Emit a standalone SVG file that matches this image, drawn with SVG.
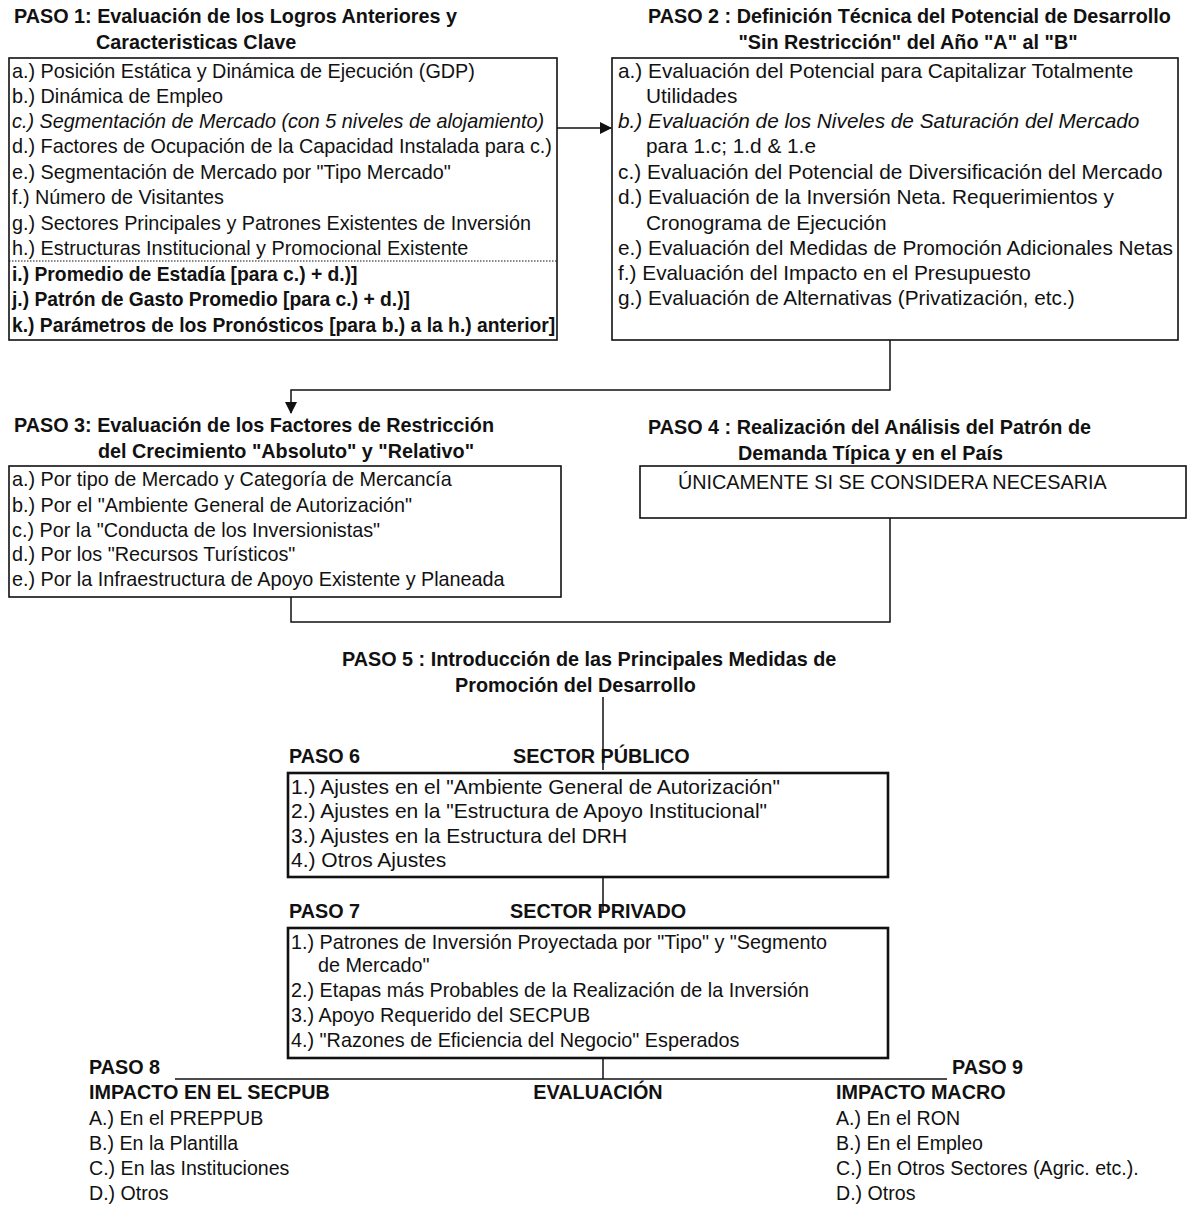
<svg xmlns="http://www.w3.org/2000/svg" width="1188" height="1205" viewBox="0 0 1188 1205">
<defs>
<style>
text{font-family:"Liberation Sans",Arial,sans-serif;fill:#111;}
.t{font-size:19.8px;font-weight:bold;}
.b{font-size:19.8px;}
.b2{font-size:20.8px;}
.b6{font-size:21px;}
.bl{font-size:19.6px;}
.bb{font-size:19.3px;font-weight:bold;}
.i{font-style:italic;}
.box{fill:#fff;stroke:#111;stroke-width:1.6;}
.tbox{fill:#fff;stroke:#111;stroke-width:2.6;}
.ln{fill:none;stroke:#111;stroke-width:1.5;}
</style>
<marker id="ah" markerWidth="12" markerHeight="12" refX="11" refY="6" orient="auto" markerUnits="userSpaceOnUse">
<path d="M0,0 L12,6 L0,12 z" fill="#111"/>
</marker>
</defs>
<rect width="1188" height="1205" fill="#fff"/>

<g id="connectors">
<path class="ln" d="M557,128 H611" marker-end="url(#ah)"/>
<path class="ln" d="M890,340 V390 H291 V413" marker-end="url(#ah)"/>
<path class="ln" d="M291,597 V622 H890 V518"/>
<path class="ln" d="M603,697 V770"/>
<path class="ln" d="M603,877 V912"/>
<path class="ln" d="M603,1058 V1079"/>
<path class="ln" d="M175,1079 H947"/>
</g>

<g id="paso1">
<text class="t" x="14" y="23">PASO 1: Evaluación de los Logros Anteriores y</text>
<text class="t" x="96" y="49">Caracteristicas Clave</text>
<rect class="box" x="9" y="58" width="548" height="282"/>
<text class="b" x="12" y="78">a.) Posición Estática y Dinámica de Ejecución (GDP)</text>
<text class="b" x="12" y="103">b.) Dinámica de Empleo</text>
<text class="b i" x="12" y="128">c.) Segmentación de Mercado (con 5 niveles de alojamiento)</text>
<text class="b" x="12" y="153">d.) Factores de Ocupación de la Capacidad Instalada  para c.)</text>
<text class="b" x="12" y="179">e.) Segmentación de Mercado por "Tipo Mercado"</text>
<text class="b" x="12" y="204">f.) Número de Visitantes</text>
<text class="b" x="12" y="230">g.) Sectores Principales y Patrones Existentes de Inversión</text>
<text class="b" x="12" y="255">h.) Estructuras Institucional y Promocional Existente</text>
<line x1="9" y1="261" x2="557" y2="261" stroke="#111" stroke-width="1.2" stroke-dasharray="1.5,1.5"/>
<text class="bb" x="12" y="281">i.) Promedio de Estadía [para c.) + d.)]</text>
<text class="bb" x="12" y="306">j.) Patrón de Gasto Promedio [para c.) + d.)]</text>
<text class="bb" x="12" y="332">k.) Parámetros de los Pronósticos [para b.) a la h.) anterior]</text>
</g>

<g id="paso2">
<text class="t" x="648" y="23">PASO 2 : Definición Técnica del Potencial de Desarrollo</text>
<text class="t" x="908" y="49" text-anchor="middle">"Sin Restricción" del Año "A" al "B"</text>
<rect class="box" x="612" y="58" width="566" height="282"/>
<text class="b2" x="618" y="78">a.) Evaluación del Potencial para Capitalizar Totalmente</text>
<text class="b2" x="646" y="103">Utilidades</text>
<text class="b2 i" x="618" y="128">b.) Evaluación de los Niveles de Saturación del Mercado</text>
<text class="b2" x="646" y="153">para 1.c; 1.d &amp; 1.e</text>
<text class="b2" x="618" y="179">c.) Evaluación del Potencial de Diversificación del Mercado</text>
<text class="b2" x="618" y="204">d.) Evaluación de la Inversión Neta. Requerimientos y</text>
<text class="b2" x="646" y="230">Cronograma de Ejecución</text>
<text class="b2" x="618" y="255">e.) Evaluación del Medidas de Promoción Adicionales Netas</text>
<text class="b2" x="618" y="280">f.) Evaluación del Impacto en el Presupuesto</text>
<text class="b2" x="618" y="305">g.) Evaluación de Alternativas (Privatización, etc.)</text>
</g>

<g id="paso3">
<text class="t" x="14" y="432">PASO 3: Evaluación de los Factores de Restricción</text>
<text class="t" x="98" y="458">del Crecimiento "Absoluto" y "Relativo"</text>
<rect class="box" x="9" y="466" width="552" height="131"/>
<text class="b" x="12" y="486">a.) Por tipo de Mercado y Categoría de Mercancía</text>
<text class="b" x="12" y="512">b.) Por el "Ambiente General de Autorización"</text>
<text class="b" x="12" y="537">c.) Por la "Conducta de los Inversionistas"</text>
<text class="b" x="12" y="561">d.) Por los "Recursos Turísticos"</text>
<text class="b" x="12" y="586">e.) Por la Infraestructura de Apoyo Existente y Planeada</text>
</g>

<g id="paso4">
<text class="t" x="648" y="434">PASO 4 : Realización del Análisis del Patrón de</text>
<text class="t" x="738" y="460">Demanda Típica y en el País</text>
<rect class="box" x="640" y="466" width="546" height="52"/>
<text class="b" x="678" y="489">ÚNICAMENTE SI SE CONSIDERA NECESARIA</text>
</g>

<g id="paso5">
<text class="t" x="342" y="666">PASO 5 : Introducción de las Principales Medidas de</text>
<text class="t" x="455" y="692">Promoción del Desarrollo</text>
</g>

<g id="paso6">
<text class="t" x="289" y="763">PASO 6</text>
<text class="t" x="513" y="763">SECTOR PÚBLICO</text>
<rect class="tbox" x="288" y="773" width="600" height="104"/>
<text class="b6" x="291" y="794">1.) Ajustes en el "Ambiente General de Autorización"</text>
<text class="b6" x="291" y="818">2.) Ajustes en la "Estructura de Apoyo Institucional"</text>
<text class="b6" x="291" y="843">3.) Ajustes en la Estructura del  DRH</text>
<text class="b6" x="291" y="867">4.) Otros Ajustes</text>
</g>

<g id="paso7">
<text class="t" x="289" y="918">PASO 7</text>
<text class="t" x="510" y="918">SECTOR PRIVADO</text>
<rect class="tbox" x="288" y="928" width="600" height="130"/>
<text class="b" x="291" y="949">1.) Patrones de Inversión  Proyectada por "Tipo" y "Segmento</text>
<text class="b" x="318" y="972">de Mercado"</text>
<text class="b" x="291" y="997">2.) Etapas más Probables de la Realización de la Inversión</text>
<text class="b" x="291" y="1022">3.) Apoyo Requerido del SECPUB</text>
<text class="b" x="291" y="1047">4.) "Razones de Eficiencia del Negocio" Esperados</text>
</g>

<g id="paso8">
<text class="t" x="89" y="1074">PASO  8</text>
<text class="t" x="89" y="1099">IMPACTO EN EL SECPUB</text>
<text class="bl" x="89" y="1125">A.) En el PREPPUB</text>
<text class="bl" x="89" y="1150">B.) En la Plantilla</text>
<text class="bl" x="89" y="1175">C.) En las Instituciones</text>
<text class="bl" x="89" y="1200">D.) Otros</text>
</g>

<g id="evaluacion">
<text class="t" x="598" y="1099" text-anchor="middle">EVALUACIÓN</text>
</g>

<g id="paso9">
<text class="t" x="952" y="1074">PASO 9</text>
<text class="t" x="836" y="1099">IMPACTO MACRO</text>
<text class="bl" x="836" y="1125">A.) En el RON</text>
<text class="bl" x="836" y="1150">B.) En el Empleo</text>
<text class="bl" x="836" y="1175">C.) En Otros Sectores (Agric. etc.).</text>
<text class="bl" x="836" y="1200">D.) Otros</text>
</g>
</svg>
